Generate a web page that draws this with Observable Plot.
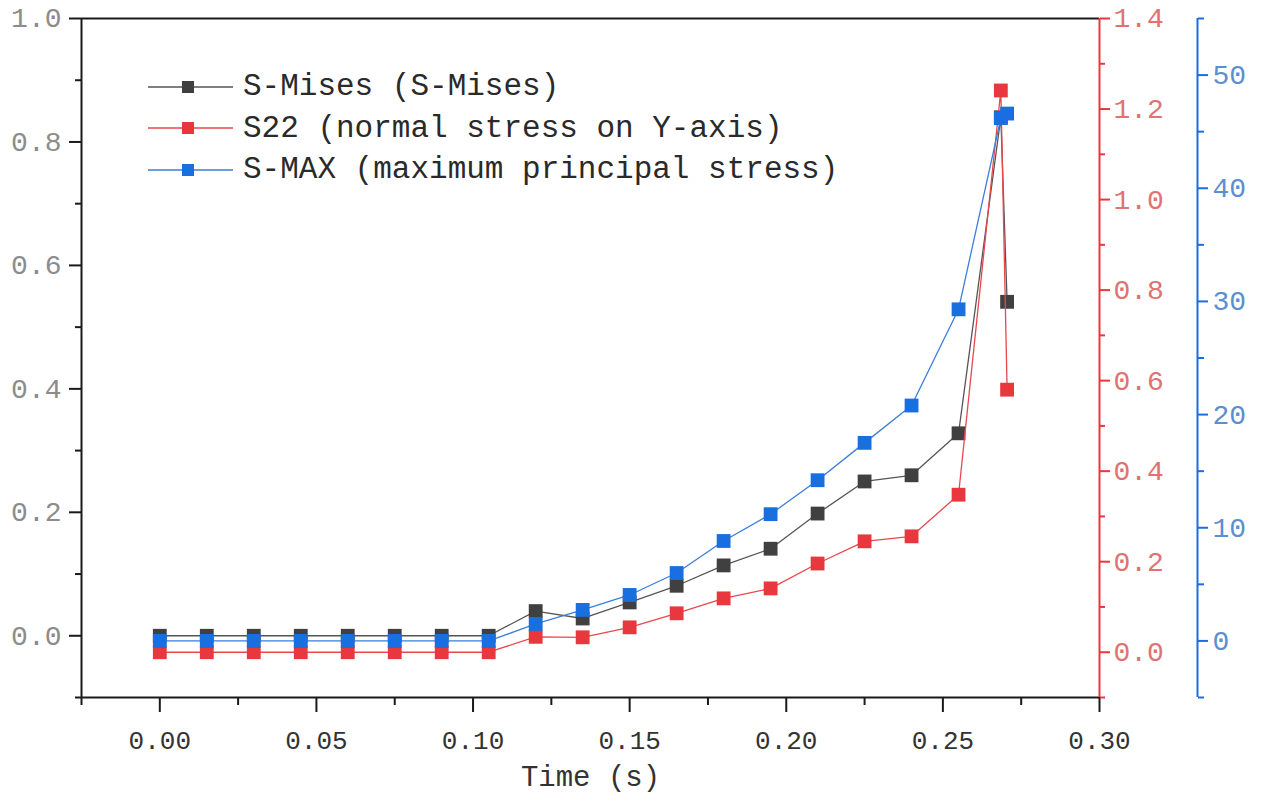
<!DOCTYPE html>
<html><head><meta charset="utf-8">
<script src="https://cdn.jsdelivr.net/npm/d3@7"></script>
<script src="https://cdn.jsdelivr.net/npm/@observablehq/plot@0.6"></script>
<style>
html,body{margin:0;padding:0;background:#fff;overflow:hidden;}
#wrap{position:relative;width:1263px;height:806px;}
#wrap > svg{position:absolute;left:0;top:0;}
.legend{position:absolute;left:148px;top:66px;font-family:"Liberation Mono",monospace;font-size:31px;color:#2a2a2a;}
.legend .row{display:flex;align-items:center;height:41.5px;}
.legend .row svg{margin-right:10px;}
</style></head><body><div id="wrap"></div>
<script>
const time = [0,0.015,0.03,0.045,0.06,0.075,0.09,0.105,0.12,0.135,0.15,0.165,0.18,0.195,0.21,0.225,0.24,0.255,0.2685,0.2705];
const sMises = [0,0,0,0,0,0,0,0,0.040,0.028,0.054,0.081,0.114,0.141,0.198,0.250,0.260,0.328,0.840,0.541];
const s22 = [0,0,0,0,0,0,0,0,0.034,0.033,0.055,0.086,0.119,0.141,0.196,0.245,0.256,0.348,1.241,0.580];
const sMax = [0,0,0,0,0,0,0,0,1.5,2.74,4.06,6.0,8.83,11.2,14.2,17.5,20.8,29.3,46.2,46.6];
const seriesNames = ["S-Mises (S-Mises)","S22 (normal stress on Y-axis)","S-MAX (maximum principal stress)"];
const xDomain = [-0.025, 0.30];
const xTicks = [0,0.05,0.10,0.15,0.20,0.25,0.30];
const xMinor = [-0.025,0.025,0.075,0.125,0.175,0.225,0.275];
const leftDomain = [-0.1, 1.0];
const leftTicks = [0,0.2,0.4,0.6,0.8,1.0];
const leftMinor = [-0.1,0.1,0.3,0.5,0.7,0.9];
const redDomain = [-0.1, 1.4];
const redTicks = [0,0.2,0.4,0.6,0.8,1.0,1.2,1.4];
const redMinor = [-0.1,0.1,0.3,0.5,0.7,0.9,1.1,1.3];
const blueDomain = [-5, 55];
const blueTicks = [0,10,20,30,40,50];
const blueMinor = [-5,5,15,25,35,45,55];

const C = {
  black: "#404040", blackLine: "#555555",
  red: "#e8383d", redLine: "#e8474c", redText: "#e07272",
  blue: "#1a6fe0", blueLine: "#3a7fdc", blueText: "#5b8fd0",
  frame: "#1a1a1a", leftText: "#8c8c8c"
};
const FONT = "Liberation Mono, DejaVu Sans Mono, monospace";
const base = {
  width: 1263, height: 806,
  marginLeft: 81, marginRight: 164, marginTop: 18, marginBottom: 109,
  style: {fontFamily: FONT, background: "transparent", overflow: "visible"}
};
const rows = (vals) => time.map((t, i) => ({t, v: vals[i]}));
const f1 = d3.format(".1f"), f2 = d3.format(".2f");
const SQ = 7.8;

const wrap = document.getElementById("wrap");

// Black / left axis layer
const p1 = Plot.plot({
  ...base,
  x: {domain: xDomain},
  y: {domain: leftDomain},
  marks: [
    Plot.ruleY([leftDomain[1]], {stroke: C.frame, strokeWidth: 2}),
    Plot.ruleY([leftDomain[0]], {stroke: C.frame, strokeWidth: 2}),
    Plot.ruleX([xDomain[0]], {stroke: C.frame, strokeWidth: 2}),
    Plot.axisX(xMinor, {tickSize: 8, tickFormat: () => "", stroke: C.frame, strokeWidth: 2, label: null}),
    Plot.axisX(xTicks, {tickSize: 15, tickPadding: 18, tickFormat: f2, fontSize: 26, fill: "#333", stroke: C.frame, strokeWidth: 2, label: null}),
    Plot.axisY(leftMinor, {anchor: "left", tickSize: 6, tickFormat: () => "", stroke: C.frame, strokeWidth: 2, label: null}),
    Plot.axisY(leftTicks, {anchor: "left", tickSize: 12, tickPadding: 8, tickFormat: f1, fontSize: 28, fill: C.leftText, stroke: C.frame, strokeWidth: 2, label: null}),
    Plot.text(["Time (s)"], {frameAnchor: "bottom", dy: 88, fontSize: 29, fill: "#333"}),
    Plot.line(rows(sMises), {x: "t", y: "v", stroke: C.blackLine, strokeWidth: 1.3}),
    Plot.dot(rows(sMises), {x: "t", y: "v", symbol: "square", r: SQ, fill: C.black})
  ]
});
wrap.appendChild(p1);

// Red layer
const p2 = Plot.plot({
  ...base,
  x: {domain: xDomain, axis: null},
  y: {domain: redDomain, axis: null},
  marks: [
    Plot.ruleX([xDomain[1]], {stroke: C.red, strokeWidth: 2}),
    Plot.axisY(redMinor, {anchor: "right", tickSize: 5, tickFormat: () => "", stroke: C.red, strokeWidth: 2, label: null}),
    Plot.axisY(redTicks, {anchor: "right", tickSize: 10, tickPadding: 4, tickFormat: f1, fontSize: 28, fill: C.redText, stroke: C.red, strokeWidth: 2, label: null}),
    Plot.line(rows(s22), {x: "t", y: "v", stroke: C.redLine, strokeWidth: 1.3}),
    Plot.dot(rows(s22), {x: "t", y: "v", symbol: "square", r: SQ, fill: C.red})
  ]
});
wrap.appendChild(p2);

// Blue layer
const OFF = 98;
const p3 = Plot.plot({
  ...base,
  x: {domain: xDomain, axis: null},
  y: {domain: blueDomain, axis: null},
  marks: [
    Plot.ruleX([xDomain[1]], {dx: OFF, stroke: C.blue, strokeWidth: 2}),
    Plot.axisY(blueMinor, {anchor: "right", dx: OFF, tickSize: 6, tickFormat: () => "", stroke: C.blue, strokeWidth: 2, label: null}),
    Plot.axisY(blueTicks, {anchor: "right", dx: OFF, tickSize: 10, tickPadding: 5, tickFormat: d3.format("d"), fontSize: 28, fill: C.blueText, stroke: C.blue, strokeWidth: 2, label: null}),
    Plot.line(rows(sMax), {x: "t", y: "v", stroke: C.blueLine, strokeWidth: 1.3}),
    Plot.dot(rows(sMax), {x: "t", y: "v", symbol: "square", r: SQ, fill: C.blue})
  ]
});
wrap.appendChild(p3);

// Legend
const legendColors = [[C.blackLine, C.black], [C.redLine, C.red], [C.blueLine, C.blue]];
const lg = document.createElement("div");
lg.className = "legend";
seriesNames.forEach((name, i) => {
  const row = document.createElement("div");
  row.className = "row";
  const [lc, fc] = legendColors[i];
  row.innerHTML = `<svg width="85" height="20"><line x1="0" x2="85" y1="10" y2="10" stroke="${lc}" stroke-width="1.5"/><rect x="34" y="4" width="12" height="12" fill="${fc}"/></svg><span>${name}</span>`;
  lg.appendChild(row);
});
wrap.appendChild(lg);
</script>
</body></html>
